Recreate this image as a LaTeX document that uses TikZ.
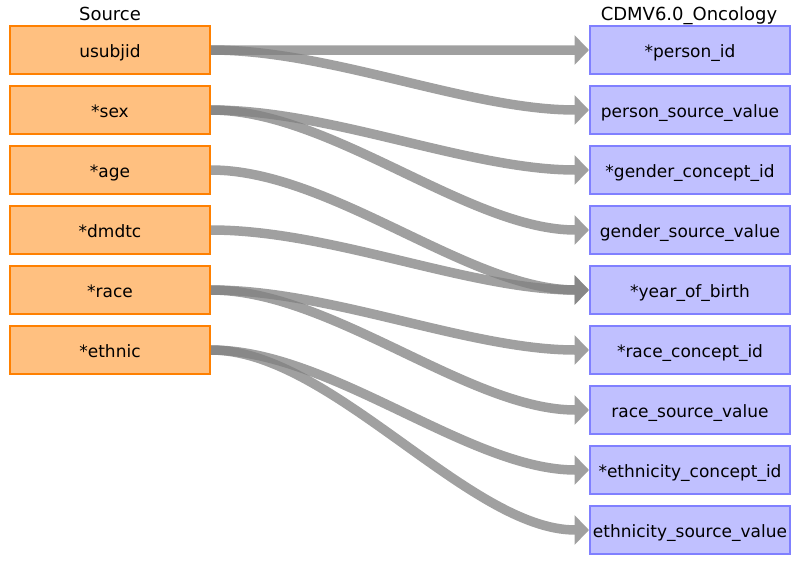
\documentclass[tikz,border=0pt]{standalone}
\usepackage{fontspec}
\setmainfont{DejaVu Sans}
\usetikzlibrary{arrows.meta}
\definecolor{srcfill}{RGB}{255,192,128}
\definecolor{srcline}{RGB}{255,128,0}
\definecolor{tgtfill}{RGB}{192,192,255}
\definecolor{tgtline}{RGB}{128,128,255}
\definecolor{arrowgray}{RGB}{128,128,128}
\begin{document}
\begin{tikzpicture}[x=1pt,y=-1pt,
  src/.style={draw=srcline, fill=srcfill, line width=2pt, minimum width=200pt, minimum height=48pt,
    inner sep=0pt, font=\fontsize{17}{20}\selectfont, text height=15pt, text depth=0.4pt},
  tgt/.style={src, draw=tgtline, fill=tgtfill},
  title/.style={font=\fontsize{18}{21}\selectfont, anchor=base, inner sep=0pt},
  map/.style={line width=9.5pt, draw=arrowgray, -{Triangle[length=14.5pt,width=29pt]}}]
\useasboundingbox (0,0) rectangle (800,565);
\node[title] (srctitle) at (110,20) {Source};
\node[title] (tgttitle) at (689,20) {CDMV6.0\_Oncology};
\node[src] (usubjid) at (110,50) {usubjid};
\node[src] (sex) at (110,110) {*sex};
\node[src] (age) at (110,170) {*age};
\node[src] (dmdtc) at (110,230) {*dmdtc};
\node[src] (race) at (110,290) {*race};
\node[src] (ethnic) at (110,350) {*ethnic};
\node[tgt] (personid) at (690,50) {*person\_id};
\node[tgt] (personsrc) at (690,110) {person\_source\_value};
\node[tgt] (gendercid) at (690,170) {*gender\_concept\_id};
\node[tgt] (gendersrc) at (690,230) {gender\_source\_value};
\node[tgt] (yob) at (690,290) {*year\_of\_birth};
\node[tgt] (racecid) at (690,350) {*race\_concept\_id};
\node[tgt] (racesrc) at (690,410) {race\_source\_value};
\node[tgt] (ethcid) at (690,470) {*ethnicity\_concept\_id};
\node[tgt] (ethsrc) at (690,530) {ethnicity\_source\_value};
\foreach \s/\t in {usubjid/personid, usubjid/personsrc, sex/gendercid, sex/gendersrc,
    age/yob, dmdtc/yob, race/racecid, race/racesrc, ethnic/ethcid, ethnic/ethsrc}{
  \begin{scope}[transparency group, opacity=0.75]
    \draw[map] (\s.east) .. controls +(120,0) and +(-120,0) .. (\t.west);
  \end{scope}
}
\end{tikzpicture}
\end{document}
